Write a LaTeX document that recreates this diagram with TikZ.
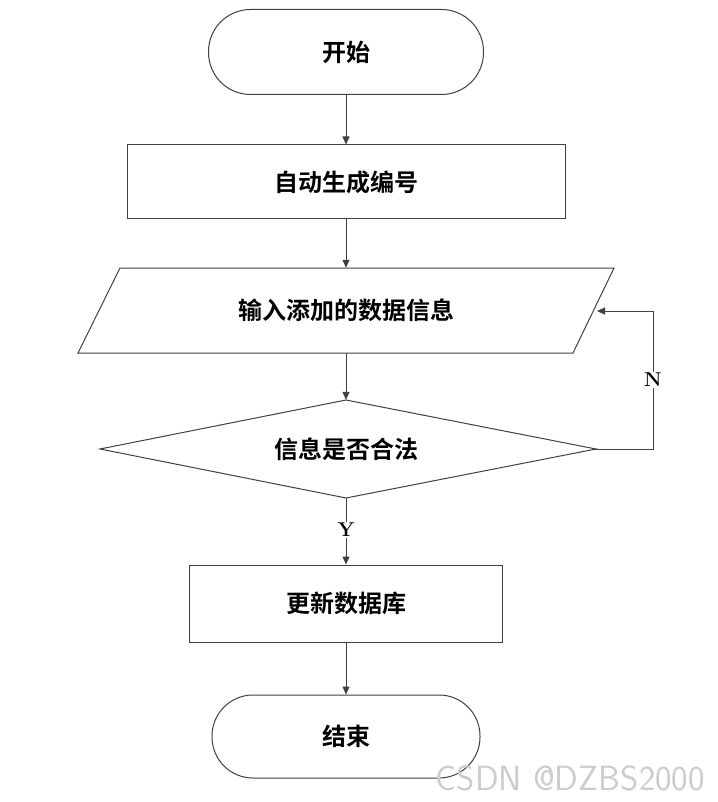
\documentclass[tikz,border=0pt]{standalone}
\usepackage{fontspec}
\newfontfamily\cjk{Noto Sans CJK SC Bold}
\usetikzlibrary{arrows.meta}
\begin{document}
\begin{tikzpicture}[x=1pt,y=-1pt,
  box/.style={draw=black!75,line width=1pt,fill=white,font=\cjk\fontsize{24}{27}\selectfont},
  lbl/.style={font=\cjk\fontsize{24}{27}\selectfont},
  arr/.style={draw=black!75,line width=1pt,-{Triangle[length=8pt,width=7pt]}},
  yn/.style={font=\fontsize{20}{23}\selectfont\bfseries,fill=white,inner sep=1pt}]
\useasboundingbox (0,0) rectangle (717,802);
\node[box,rounded corners=42pt,minimum width=275pt,minimum height=85pt] (start) at (346,52) {开始};
\node[box,minimum width=438pt,minimum height=74pt] (gen) at (346,182) {自动生成编号};
\draw[black!75,line width=1pt] (120,268) -- (614,268) -- (573,353) -- (78,353) -- cycle;
\node[lbl,minimum width=494pt,minimum height=85pt,inner sep=0pt] (in) at (346,310.5) {输入添加的数据信息};
\draw[black!75,line width=1pt] (346,400) -- (596,449) -- (346,498) -- (100,449) -- cycle;
\node[lbl,minimum width=496pt,minimum height=98pt,inner sep=0pt] (chk) at (346,449) {信息是否合法};
\node[box,minimum width=313pt,minimum height=77pt] (upd) at (346,603.5) {更新数据库};
\node[box,rounded corners=41pt,minimum width=268pt,minimum height=83pt] (end) at (346,736.5) {结束};
\coordinate (c1) at (653,449);
\coordinate (c2) at (653,311);
\coordinate (p) at (597,311);
\draw[arr] (start) -- (gen);
\draw[arr] (gen) -- (in);
\draw[arr] (in) -- (chk);
\draw[arr] (chk.south) -- node[yn,pos=0.48]{Y} (upd);
\draw[arr] (upd) -- (end);
\draw[arr] (chk.east) -- (c1) -- node[yn]{N} (c2) -- (p);
\node[font=\fontsize{35}{40}\selectfont\sffamily,text=black!20,anchor=east,inner sep=0pt] (wm) at (705,778) {CSDN @DZBS2000};
\end{tikzpicture}
\end{document}
